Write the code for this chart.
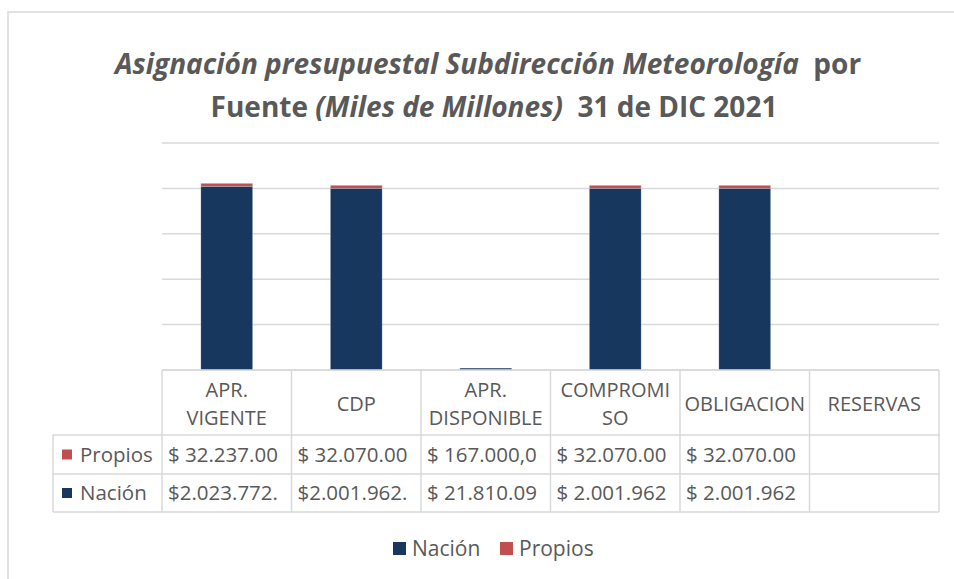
<!DOCTYPE html>
<html>
<head>
<meta charset="utf-8">
<script src="https://cdn.jsdelivr.net/npm/d3@7"></script>
<style>
 html, body { margin: 0; padding: 0; background: #fff; }
 svg text { font-family: "Open Sans", sans-serif; fill: #595959; white-space: pre; }
</style>
</head>
<body>
<div id="chart"></div>
<script>
// datos
const categories = ["APR. VIGENTE", "CDP", "APR. DISPONIBLE", "COMPROMISO", "OBLIGACION", "RESERVAS"];
const headerLines = [["APR.", "VIGENTE"], ["CDP"], ["APR.", "DISPONIBLE"], ["COMPROMI", "SO"], ["OBLIGACION"], ["RESERVAS"]];
const nacion = [2023772, 2001962, 21810, 2001962, 2001962, 0];
const propios = [32237, 32070, 167, 32070, 32070, 0];
const propiosLabels = ["$ 32.237.00", "$ 32.070.00", "$ 167.000,0", "$ 32.070.00", "$ 32.070.00", ""];
const nacionLabels = ["$2.023.772.", "$2.001.962.", "$ 21.810.09", "$ 2.001.962", "$ 2.001.962", ""];
const yTicks = [0, 500000, 1000000, 1500000, 2000000, 2500000];
const seriesNames = ["Nación", "Propios"];

(function () {
 const width = 954;
 const height = 579;
 const plot = { left: 162, right: 939, top: 143, bottom: 370 };
 const colors = { "Nación": "#17375e", "Propios": "#c0504d" };

 const svg = d3
  .select("#chart")
  .append("svg")
  .attr("width", width)
  .attr("height", height);

 // marco del grafico
 svg
  .append("rect")
  .attr("x", 8)
  .attr("y", 12)
  .attr("width", 1000)
  .attr("height", 600)
  .attr("fill", "#fff")
  .attr("stroke", "#d9d9d9")
  .attr("stroke-width", 1.5);

 // titulo
 const title = svg
  .append("text")
  .attr("text-anchor", "middle")
  .style("font-size", "28px")
  .style("font-weight", "bold");
 title
  .append("tspan")
  .attr("x", 488)
  .attr("y", 74)
  .style("font-style", "italic")
  .text("Asignación presupuestal Subdirección Meteorología");
 title.append("tspan").text("  por");
 title.append("tspan").attr("x", 494).attr("y", 117).text("Fuente ");
 title
  .append("tspan")
  .style("font-style", "italic")
  .text("(Miles de Millones)");
 title.append("tspan").text("  31 de DIC 2021");

 const x = d3
  .scaleBand()
  .domain(categories)
  .range([plot.left, plot.right])
  .paddingInner(0)
  .paddingOuter(0);

 const y = d3
  .scaleLinear()
  .domain([0, 2500000])
  .range([plot.bottom, plot.top]);

 // lineas de cuadricula
 svg
  .append("g")
  .selectAll("line")
  .data(yTicks)
  .enter()
  .append("line")
  .attr("x1", plot.left)
  .attr("x2", plot.right)
  .attr("y1", (d) => y(d))
  .attr("y2", (d) => y(d))
  .attr("stroke", "#d9d9d9")
  .attr("stroke-width", 1.5);

 // barras apiladas
 const rows = categories.map((c, i) => ({
  cat: c,
  "Nación": nacion[i],
  "Propios": propios[i],
 }));
 const stacked = d3.stack().keys(seriesNames)(rows);
 const barW = x.bandwidth() * 0.4;

 svg
  .append("g")
  .selectAll("g")
  .data(stacked)
  .enter()
  .append("g")
  .attr("fill", (s) => colors[s.key])
  .selectAll("rect")
  .data((s) => s)
  .enter()
  .append("rect")
  .attr("x", (d) => x(d.data.cat) + (x.bandwidth() - barW) / 2)
  .attr("width", barW)
  .attr("y", (d) => y(d[1]))
  .attr("height", (d) => y(d[0]) - y(d[1]))
  .attr("stroke", "#ffffff")
  .attr("stroke-opacity", 0.4)
  .attr("stroke-width", 0.6);

 // tabla de datos
 const rowTop = [plot.bottom, 435, 474, 512];
 const legendLeft = 53;
 const fs = "20.5px";
 const grid = svg.append("g").attr("stroke", "#d9d9d9").attr("stroke-width", 1.5);

 // lineas horizontales
 rowTop.forEach((yy, i) => {
  grid
   .append("line")
   .attr("x1", i === 0 ? plot.left : legendLeft)
   .attr("x2", plot.right)
   .attr("y1", yy)
   .attr("y2", yy);
 });
 // lineas verticales
 categories.forEach((c) => {
  grid
   .append("line")
   .attr("x1", x(c))
   .attr("x2", x(c))
   .attr("y1", rowTop[0])
   .attr("y2", rowTop[3]);
 });
 grid
  .append("line")
  .attr("x1", plot.right)
  .attr("x2", plot.right)
  .attr("y1", rowTop[0])
  .attr("y2", rowTop[3]);
 grid
  .append("line")
  .attr("x1", legendLeft)
  .attr("x2", legendLeft)
  .attr("y1", rowTop[1])
  .attr("y2", rowTop[3]);

 // encabezados (un texto por celda, lineas como tspan)
 const headG = svg.append("g").style("font-size", "20px");
 headerLines.forEach((lines, i) => {
  const cx = x(categories[i]) + x.bandwidth() / 2;
  const midY = (rowTop[0] + rowTop[1]) / 2 + 1.5;
  const lh = 27.5;
  const y0 = midY - ((lines.length - 1) * lh) / 2 + 7;
  const t = headG
   .append("text")
   .attr("text-anchor", "middle");
  lines.forEach((s, j) => {
   t.append("tspan")
    .attr("x", cx)
    .attr("y", y0 + j * lh)
    .text(s);
  });
 });

 // valores en celdas (recortados como en el original)
 const defs = svg.append("defs");
 categories.forEach((c, i) => {
  defs
   .append("clipPath")
   .attr("id", "clip" + i)
   .append("rect")
   .attr("x", x(c) + 1)
   .attr("y", rowTop[1])
   .attr("width", x.bandwidth() - 2)
   .attr("height", rowTop[3] - rowTop[1]);
 });

 const tableRows = [
  { name: "Propios", labels: propiosLabels, top: rowTop[1], bottom: rowTop[2] },
  { name: "Nación", labels: nacionLabels, top: rowTop[2], bottom: rowTop[3] },
 ];

 tableRows.forEach((r) => {
  const midY = (r.top + r.bottom) / 2 + 7;
  svg
   .append("rect")
   .attr("x", 62)
   .attr("y", midY - 12)
   .attr("width", 10)
   .attr("height", 10)
   .attr("fill", colors[r.name]);
  svg
   .append("text")
   .attr("x", 80)
   .attr("y", midY)
   .style("font-size", fs)
   .text(r.name);
  r.labels.forEach((t, i) => {
   svg
    .append("text")
    .attr("x", x(categories[i]) + 6)
    .attr("y", midY)
    .attr("clip-path", "url(#clip" + i + ")")
    .style("font-size", fs)
    .text(t);
  });
 });

 // leyenda
 const legendX = [393, 500];
 const legend = svg.append("g");
 seriesNames.forEach((s, i) => {
  legend
   .append("rect")
   .attr("x", legendX[i])
   .attr("y", 542)
   .attr("width", 13)
   .attr("height", 13)
   .attr("fill", colors[s]);
  legend
   .append("text")
   .attr("x", legendX[i] + 19)
   .attr("y", 556)
   .style("font-size", "21px")
   .text(s);
 });
})();
</script>
</body>
</html>
